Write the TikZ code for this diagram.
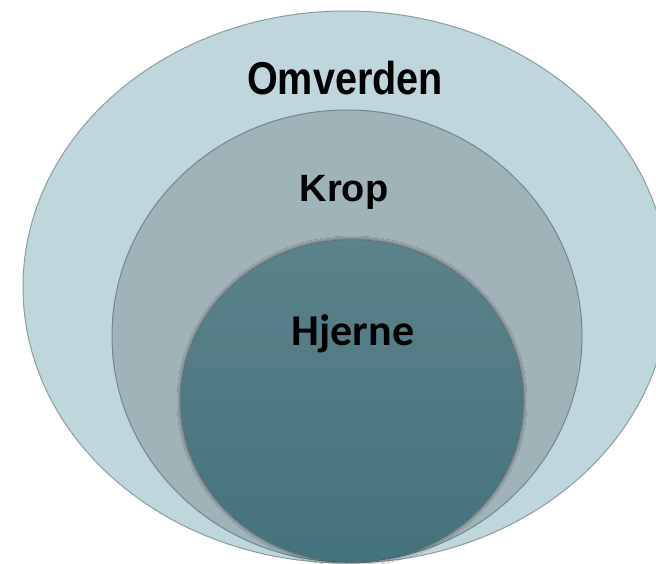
\documentclass[tikz,border=0pt]{standalone}
\usepackage{fontspec}
\setmainfont{Liberation Sans}
\newfontfamily\carlito{Carlito}
\usetikzlibrary{shapes.geometric,shadows.blur}
\definecolor{outerfill}{HTML}{BFD6DC}
\definecolor{outerline}{HTML}{8A9EA2}
\definecolor{midfill}{HTML}{A0B3B8}
\definecolor{midline}{HTML}{6A8990}
\definecolor{innertop}{HTML}{5C828B}
\definecolor{innerbot}{HTML}{44727C}
\tikzset{
  ring/.style={ellipse, inner sep=0pt, outer sep=0pt, line width=1pt},
  label/.style={inner sep=0pt, anchor=base, text=black},
}
\begin{document}
\begin{tikzpicture}[x=1pt,y=-1pt]
\useasboundingbox (0,0) rectangle (656,564);
\fill[white] (0,0) rectangle (656,564);
\begin{scope}
\clip (0,0) rectangle (656,564);
\node[ring, draw=outerline, fill=outerfill, minimum width=646pt, minimum height=552pt] (outer) at (346,287) {};
\node[ring, draw=midline, fill=midfill, minimum width=470pt, minimum height=452pt] (mid) at (347,336) {};
\node[ring, top color=innertop, bottom color=innerbot, minimum width=342pt, minimum height=322pt,
  blur shadow={shadow xshift=0pt, shadow yshift=0pt, shadow blur radius=4pt, shadow opacity=70, shadow scale=1.0, shadow blur steps=12}] (inner) at (352,401) {};
\end{scope}
\node[label, font=\bfseries\fontsize{46}{50}\selectfont, xscale=0.86] (t1) at (345,95) {Omverden};
\node[label, font=\bfseries\fontsize{38}{42}\selectfont] (t2) at (344,202) {Krop};
\node[label, font=\carlito\bfseries\fontsize{44}{48}\selectfont] (t3) at (353,345) {Hjerne};
\end{tikzpicture}
\end{document}
